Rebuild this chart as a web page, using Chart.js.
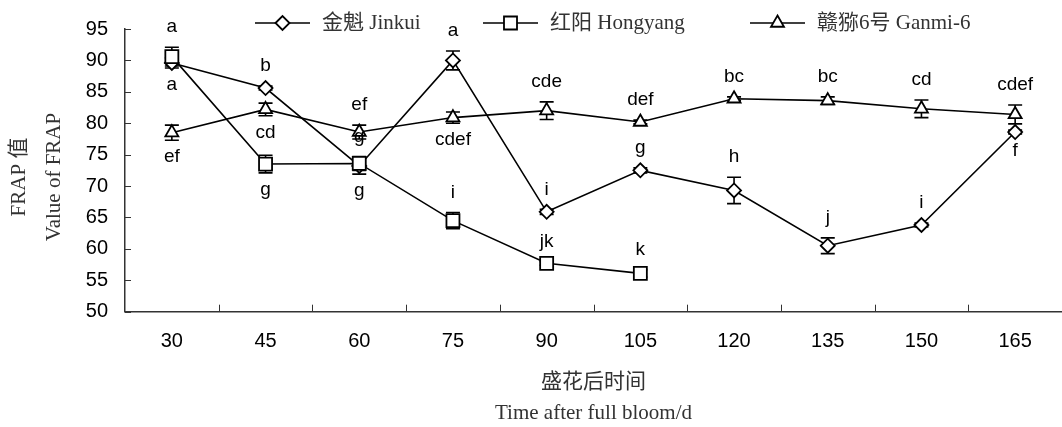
<!DOCTYPE html>
<html>
<head>
<meta charset="utf-8">
<script src="https://cdn.jsdelivr.net/npm/chart.js@4.4.0/dist/chart.umd.min.js"></script>
<style>
  html,body{margin:0;padding:0;background:#fff}
  #c{display:block}
</style>
</head>
<body>
<canvas id="c" width="1062" height="427"></canvas>
<script>
// --- data ---
const days = ['30','45','60','75','90','105','120','135','150','165'];
const yTicks = [50,55,60,65,70,75,80,85,90,95];

const jinkui    = [89.6, 85.6, 73.2, 90.0, 65.9, 72.5, 69.3, 60.5, 63.8, 78.6];
const jinkuiErr = [0.8, 0.3, 1.3, 1.5, 0.4, 0.4, 2.1, 1.25, 0.3, 0.3];
const jinkuiSig = ['a','b','g','a','i','g','h','j','i','f'];
const jinkuiPos = ['down','up','down','up','up','up','up','up','up','down'];

const hongyang    = [90.6, 73.5, 73.6, 64.5, 57.7, 56.1, null, null, null, null];
const hongyangErr = [1.5, 1.4, 1.1, 1.3, 0.3, 0.6];
const hongyangSig = ['a','g','g','i','jk','k'];
const hongyangPos = ['up','down','up','up','up','up'];

const ganmi    = [78.5, 82.2, 78.6, 80.9, 82.0, 80.2, 83.9, 83.6, 82.3, 81.4];
const ganmiErr = [1.2, 1.0, 1.1, 0.9, 1.4, 0.3, 0.3, 0.6, 1.4, 1.5];
const ganmiSig = ['ef','cd','ef','cdef','cde','def','bc','bc','cd','cdef'];
const ganmiPos = ['down','down','up','down','up','up','up','up','up','up'];

const SANS = "'Liberation Sans', Arial, sans-serif";
const SERIF = "'Liberation Serif', 'Noto Sans CJK SC', serif";

// error bars go under the markers
const errorBars = {
  id:'errorBars',
  beforeDatasetsDraw(chart){
    const {ctx, scales:{x, y}} = chart;
    ctx.save();
    ctx.strokeStyle = '#000';
    ctx.lineWidth = 1.6;
    chart.data.datasets.forEach(ds=>{
      ds.data.forEach((v,i)=>{
        if(v==null) return;
        const px = x.getPixelForValue(i);
        const t = y.getPixelForValue(v + ds.err[i]), b = y.getPixelForValue(v - ds.err[i]);
        ctx.beginPath();
        ctx.moveTo(px, t); ctx.lineTo(px, b);
        ctx.moveTo(px-7, t); ctx.lineTo(px+7, t);
        ctx.moveTo(px-7, b); ctx.lineTo(px+7, b);
        ctx.stroke();
      });
    });
    ctx.restore();
  }
};

// significance letters above / below each error bar
const sigLetters = {
  id:'sigLetters',
  afterDatasetsDraw(chart){
    const {ctx, scales:{x, y}} = chart;
    ctx.save();
    ctx.font = '19px ' + SANS;
    ctx.fillStyle = '#000';
    ctx.textAlign = 'center';
    ctx.textBaseline = 'middle';
    chart.data.datasets.forEach(ds=>{
      ds.sig.forEach((s,i)=>{
        const v = ds.data[i];
        if(v==null) return;
        const px = x.getPixelForValue(i);
        if(ds.pos[i]==='up') ctx.fillText(s, px, y.getPixelForValue(v + ds.err[i]) - 20);
        else ctx.fillText(s, px, y.getPixelForValue(v - ds.err[i]) + 17);
      });
    });
    ctx.restore();
  }
};

// inward tick marks, legend and axis titles
const decor = {
  id:'decor',
  afterDraw(chart){
    const {ctx, scales:{x, y}, chartArea:a} = chart;
    ctx.save();
    ctx.strokeStyle = '#333';
    ctx.lineWidth = 1;
    ctx.beginPath();
    y.ticks.forEach(t=>{
      const py = Math.round(y.getPixelForValue(t.value)) + 0.5;
      ctx.moveTo(a.left, py); ctx.lineTo(a.left + 6, py);
    });
    for(let i=1;i<days.length;i++){
      const px = Math.round((x.getPixelForValue(i-1) + x.getPixelForValue(i))/2) + 0.5;
      ctx.moveTo(px, a.bottom); ctx.lineTo(px, a.bottom - 7);
    }
    ctx.stroke();

    // legend: line - marker - line, then label
    const legendX = [255, 483, 750], ly = 23;
    ctx.font = '21px ' + SERIF;
    ctx.textBaseline = 'middle';
    ctx.textAlign = 'left';
    chart.data.datasets.forEach((ds,k)=>{
      const lx = legendX[k];
      ctx.strokeStyle = '#000';
      ctx.lineWidth = 1.6;
      ctx.beginPath(); ctx.moveTo(lx, ly); ctx.lineTo(lx+55, ly); ctx.stroke();
      ctx.fillStyle = '#fff';
      ctx.lineWidth = 1.8;
      Chart.helpers.drawPoint(ctx, {pointStyle: ds.pointStyle, radius: ds.pointRadius, borderWidth: 1.8, rotation: 0}, lx+27.5, ly);
      ctx.fillStyle = '#333';
      ctx.fillText(ds.label, lx+67, ly);
    });

    // axis titles
    ctx.textAlign = 'center';
    ctx.fillStyle = '#333';
    const cx = (a.left + a.right)/2;
    ctx.fillText('盛花后时间', cx, 382);
    ctx.fillText('Time after full bloom/d', cx, 413);
    ctx.translate(19, 177); ctx.rotate(-Math.PI/2);
    ctx.fillText('FRAP 值', 0, 0);
    ctx.fillText('Value of FRAP', 0, 35);
    ctx.restore();
  }
};

const common = {borderColor:'#000', borderWidth:1.6, pointBackgroundColor:'#fff', pointBorderColor:'#000', pointBorderWidth:1.8, tension:0, fill:false, spanGaps:false, clip:false};

new Chart(document.getElementById('c'), {
  type:'line',
  data:{
    labels: days,
    datasets:[
      {...common, label:'金魁 Jinkui', data:jinkui, err:jinkuiErr, sig:jinkuiSig, pos:jinkuiPos, pointStyle:'rectRot', pointRadius:7, order:2},
      {...common, label:'红阳 Hongyang', data:hongyang, err:hongyangErr, sig:hongyangSig, pos:hongyangPos, pointStyle:'rect', pointRadius:9.2, order:0},
      {...common, label:'赣猕6号 Ganmi-6', data:ganmi, err:ganmiErr, sig:ganmiSig, pos:ganmiPos, pointStyle:'triangle', pointRadius:7.5, order:1}
    ]
  },
  options:{
    responsive:false,
    devicePixelRatio:1,
    animation:false,
    events:[],
    layout:{autoPadding:false, padding:{top:29, left:0, right:0, bottom:0}},
    plugins:{legend:{display:false}, tooltip:{enabled:false}},
    scales:{
      x:{
        offset:true,
        grid:{display:false, drawTicks:false},
        border:{display:true, color:'#333', width:1.5},
        ticks:{font:{family:SANS, size:20}, color:'#000', padding:18, autoSkip:false, maxRotation:0},
        afterFit: s=>{ s.height = 427 - 311.7; s.paddingLeft = 0; s.paddingRight = 0; }
      },
      y:{
        min: yTicks[0], max: yTicks[yTicks.length-1],
        grid:{display:false, drawTicks:false},
        border:{display:true, color:'#333', width:1.5},
        ticks:{font:{family:SANS, size:20}, color:'#000', padding:17},
        afterBuildTicks: s=>{ s.ticks = yTicks.map(v=>({value:v})); },
        afterFit: s=>{ s.width = 125; }
      }
    }
  },
  plugins:[errorBars, sigLetters, decor]
});
</script>
</body>
</html>
